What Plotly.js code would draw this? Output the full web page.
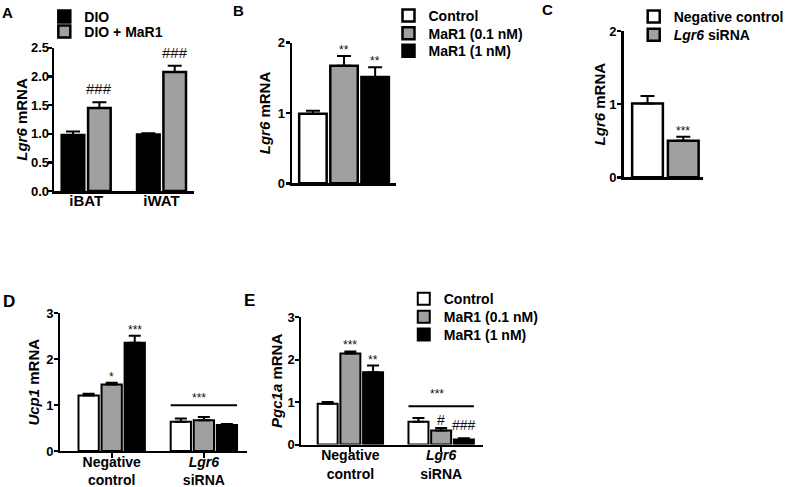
<!DOCTYPE html>
<html><head><meta charset="utf-8">
<script src="https://cdn.plot.ly/plotly-3.0.1.min.js"></script>
<style>html,body{margin:0;padding:0;background:#fff}#chart{width:789px;height:487px}</style>
</head><body><div id="chart"></div>
<script>
// ---------- Panel A ----------
const tissuesA = ['iBAT', 'iWAT'];
const dioA = [0.98, 0.99];
const dioErrA = [0.06, 0.02];
const marA = [1.45, 2.08];
const marErrA = [0.10, 0.11];
const sigMarA = ['###', '###'];

// ---------- Panel B ----------
const catB = ['Lgr6'];
const seriesB = ['Control', 'MaR1 (0.1 nM)', 'MaR1 (1 nM)'];
const valB = [0.99, 1.67, 1.51];
const errB = [0.04, 0.14, 0.14];
const sigB = ['', '**', '**'];

// ---------- Panel C ----------
const catC = ['Negative control', '<i>Lgr6</i> siRNA'];
const valC = [1.01, 0.50];
const errC = [0.10, 0.055];
const sigC = ['', '***'];

// ---------- Panels D & E ----------
const catDE = ['Negative control', 'Lgr6 siRNA'];
const tickDE = ['Negative<br>control', '<i>Lgr6</i><br>siRNA'];
const seriesDE = ['Control', 'MaR1 (0.1 nM)', 'MaR1 (1 nM)'];
// Ucp1 (D)
const ucpCtrl = [1.21, 0.64], ucpCtrlErr = [0.04, 0.07];
const ucp01 = [1.45, 0.67], ucp01Err = [0.04, 0.07];
const ucp1 = [2.36, 0.57], ucp1Err = [0.15, 0.02];
const sigD = [['', ''], ['*', ''], ['***', '']];
const sigLineD = {value: 1.0, label: '***'};
// Pgc1a (E)
const pgcCtrl = [0.96, 0.535], pgcCtrlErr = [0.04, 0.09];
const pgc01 = [2.14, 0.33], pgc01Err = [0.05, 0.06];
const pgc1 = [1.70, 0.12], pgc1Err = [0.16, 0.03];
const sigE = [['', ''], ['***', '#'], ['**', '###']];
const sigLineE = {value: 0.9, label: '***'};

// ---------- styling ----------
const F = 'Liberation Sans, Arial, Helvetica, sans-serif';
const GRAY = '#a0a0a0';
const COLORS3 = ['#ffffff', GRAY, '#000000'];

function mkBar(o) {
  return {
    type: 'bar', x: o.x, y: o.y, name: o.name, xaxis: o.xa, yaxis: o.ya,
    offset: o.offset, width: o.width, legend: o.legend, showlegend: o.showlegend !== false,
    marker: {color: o.color, line: {color: '#000', width: o.lw || 2}},
    error_y: {type: 'data', symmetric: false, array: o.err, arrayminus: o.err.map(() => 0),
      color: '#000', thickness: 2, width: o.cap || 6},
    hoverinfo: 'skip'
  };
}

const traces = [];
const annotations = [];
const shapes = [];
const legends = {};
let legendCount = 0;
// each legend entry gets its own legend box so rows can be spaced like the reference
function nextLegend(xpx, ytop) {
  legendCount += 1;
  const id = legendCount === 1 ? 'legend' : 'legend' + legendCount;
  legends[id] = {x: xpx / 789, y: 1 - ytop / 487, xanchor: 'left', yanchor: 'top', bgcolor: 'rgba(0,0,0,0)',
    font: {family: F, size: 14, color: '#000', weight: 'bold'}, itemclick: false, itemdoubleclick: false};
  return id;
}

function sigAnn(xa, ya, xpos, y, text, size, yshift) {
  if (!text) return;
  annotations.push({xref: xa, yref: ya, x: xpos, y: y, text: text, showarrow: false,
    xanchor: 'center', yanchor: 'bottom', yshift: yshift,
    font: {family: F, size: size, color: '#111'}});
}

// A
const offA = [-0.325, 0.025], wA = 0.3;
const legRowsA = [0, 15];
traces.push(mkBar({x: tissuesA, y: dioA, err: dioErrA, name: 'DIO', xa: 'x', ya: 'y', color: '#000',
  offset: offA[0], width: wA, legend: nextLegend(45, legRowsA[0]), lw: 2.5, cap: 7}));
traces.push(mkBar({x: tissuesA, y: marA, err: marErrA, name: 'DIO + MaR1', xa: 'x', ya: 'y', color: GRAY,
  offset: offA[1], width: wA, legend: nextLegend(45, legRowsA[1]), lw: 2.5, cap: 7}));
tissuesA.forEach((t, i) => sigAnn('x', 'y', i + offA[1] + wA / 2, marA[i] + marErrA[i], sigMarA[i], 15, 3));

// B
const offB = [-0.4325, -0.1325, 0.1675], wB = 0.265;
const legRowsB = [-1, 16.7, 34.3];
seriesB.forEach((s, k) => {
  traces.push(mkBar({x: catB, y: [valB[k]], err: [errB[k]], name: s, xa: 'x2', ya: 'y2', color: COLORS3[k],
    offset: offB[k], width: wB, legend: nextLegend(394.5, legRowsB[k]), lw: 2.5, cap: 7}));
  sigAnn('x2', 'y2', offB[k] + wB / 2, valB[k] + errB[k], sigB[k], 12, -3);
});

// C
const colorsC = ['#ffffff', GRAY];
const offC = -0.43, wC = 0.86;
const legRowsC = [0, 18.3];
catC.forEach((c, k) => {
  traces.push(mkBar({x: [c], y: [valC[k]], err: [errC[k]], name: c, xa: 'x3', ya: 'y3', color: colorsC[k],
    offset: offC, width: wC, legend: nextLegend(643.5, legRowsC[k]), lw: 2.5, cap: 7}));
  sigAnn('x3', 'y3', k, valC[k] + errC[k], sigC[k], 12, -3);
});

// D & E
const offDE = [-0.36, -0.11, 0.14], wDE = 0.22;
const dVals = [ucpCtrl, ucp01, ucp1], dErrs = [ucpCtrlErr, ucp01Err, ucp1Err];
const eVals = [pgcCtrl, pgc01, pgc1], eErrs = [pgcCtrlErr, pgc01Err, pgc1Err];
seriesDE.forEach((s, k) => {
  traces.push(mkBar({x: catDE, y: dVals[k], err: dErrs[k], name: s, xa: 'x4', ya: 'y4', color: COLORS3[k],
    offset: offDE[k], width: wDE, showlegend: false, cap: 6}));
  catDE.forEach((c, i) => sigAnn('x4', 'y4', i + offDE[k] + wDE / 2, dVals[k][i] + dErrs[k][i], sigD[k][i], 12, -3));
});
const legRowsE = [282.7, 300.7, 318.5];
seriesDE.forEach((s, k) => {
  traces.push(mkBar({x: catDE, y: eVals[k], err: eErrs[k], name: s, xa: 'x5', ya: 'y5', color: COLORS3[k],
    offset: offDE[k], width: wDE, legend: nextLegend(410, legRowsE[k]), cap: 6}));
  catDE.forEach((c, i) => {
    const t = sigE[k][i];
    const shift = t === '#' ? -2 : (t === '###' ? 3 : -3);
    sigAnn('x5', 'y5', i + offDE[k] + wDE / 2, eVals[k][i] + eErrs[k][i], t, t.indexOf('#') >= 0 ? 14 : 12, shift);
  });
});
// significance lines over the Lgr6 siRNA groups
[[sigLineD, 'x4', 'y4', -2], [sigLineE, 'x5', 'y5', 3]].forEach(([L, xa, ya, ys]) => {
  const x0 = 1 + offDE[0], x1 = 1 + offDE[2] + wDE;
  shapes.push({type: 'line', xref: xa, yref: ya, x0: x0, x1: x1, y0: L.value, y1: L.value,
    line: {color: '#000', width: 2}});
  annotations.push({xref: xa, yref: ya, x: (x0 + x1) / 2 - 0.05, y: L.value, text: L.label, showarrow: false,
    yanchor: 'bottom', yshift: ys, font: {family: F, size: 12, color: '#111'}});
});

// panel letters
[['A', 8, 12, 15], ['B', 242, 10, 15], ['C', 556, 9, 15], ['D', 9, 301, 17], ['E', 253, 300, 17]].forEach(([t, px, py, sz]) => {
  annotations.push({xref: 'paper', yref: 'paper', x: px / 789, y: 1 - py / 487, text: t, showarrow: false,
    xanchor: 'center', yanchor: 'middle', font: {family: F, size: sz, color: '#000', weight: 'bold'}});
});

const tickFont = (s) => ({family: F, size: s, color: '#000', weight: 'bold'});
function xAx(domain, anchor, range, extra) {
  return Object.assign({domain: domain, anchor: anchor, type: 'category', range: range, showline: true,
    linecolor: '#000', linewidth: 2, ticks: '', showgrid: false, zeroline: false, fixedrange: true,
    tickfont: tickFont(15)}, extra || {});
}
function yAx(domain, anchor, range, dtick, title, standoff, extra) {
  return Object.assign({domain: domain, anchor: anchor, range: range, dtick: dtick, tick0: 0,
    showline: true, linecolor: '#000', linewidth: 2, ticks: 'outside', ticklen: 4, tickwidth: 2, tickcolor: '#000',
    ticklabelstandoff: -2,
    showgrid: false, zeroline: false, fixedrange: true, tickfont: tickFont(13),
    title: {text: title, standoff: standoff, font: {family: F, size: 15, color: '#000', weight: 'bold'}}}, extra || {});
}

const layout = Object.assign({
  width: 789, height: 487, margin: {l: 0, r: 0, t: 0, b: 0}, paper_bgcolor: '#fff', plot_bgcolor: '#fff',
  showlegend: true, font: {family: F, color: '#000'},
  xaxis: xAx([55 / 789, 197 / 789], 'y', [-0.425, 1.431], {linewidth: 2.5, ticklabelstandoff: -6}),
  yaxis: yAx([1 - 190.5 / 487, 1 - 47 / 487], 'x', [0, 2.5], 0.5, '<i>Lgr6</i> mRNA', 0,
    {tickformat: '.1f', linewidth: 2.5, tickwidth: 2.5, ticklabelstandoff: -4}),
  xaxis2: xAx([296.7 / 789, 402 / 789], 'y2', [-0.5, 0.5], {showticklabels: false, linewidth: 2.5}),
  yaxis2: yAx([1 - 182.7 / 487, 1 - 41.7 / 487], 'x2', [0, 2], 1, '<i>Lgr6</i> mRNA', 4, {linewidth: 2.5, tickwidth: 2.5}),
  xaxis3: xAx([633.3 / 789, 714 / 789], 'y3', [-0.667, 1.556], {showticklabels: false, linewidth: 2.5}),
  yaxis3: yAx([1 - 176.7 / 487, 1 - 30 / 487], 'x3', [0, 2], 1, '<i>Lgr6</i> mRNA', 0, {linewidth: 2.5, tickwidth: 2.5}),
  xaxis4: xAx([61 / 789, 251 / 789], 'y4', [-0.56, 1.47], {ticks: 'outside', ticklen: 5, tickwidth: 2, tickcolor: '#000',
    tickmode: 'array', tickvals: catDE, ticktext: tickDE, tickfont: tickFont(14), ticklabelstandoff: -8}),
  yaxis4: yAx([1 - 451 / 487, 1 - 313 / 487], 'x4', [0, 3], 1, '<i>Ucp1</i> mRNA', 3),
  xaxis5: xAx([306 / 789, 490 / 789], 'y5', [-0.54, 1.456], {ticks: 'outside', ticklen: 5, tickwidth: 2, tickcolor: '#000',
    tickmode: 'array', tickvals: catDE, ticktext: tickDE, tickfont: tickFont(14), ticklabelstandoff: -8}),
  yaxis5: yAx([1 - 444.5 / 487, 1 - 316.7 / 487], 'x5', [0, 3], 1, '<i>Pgc1a</i> mRNA', 1),
  annotations: annotations,
  shapes: shapes
}, legends);

Plotly.newPlot('chart', traces, layout, {staticPlot: true, displayModeBar: false});
</script>
</body></html>
